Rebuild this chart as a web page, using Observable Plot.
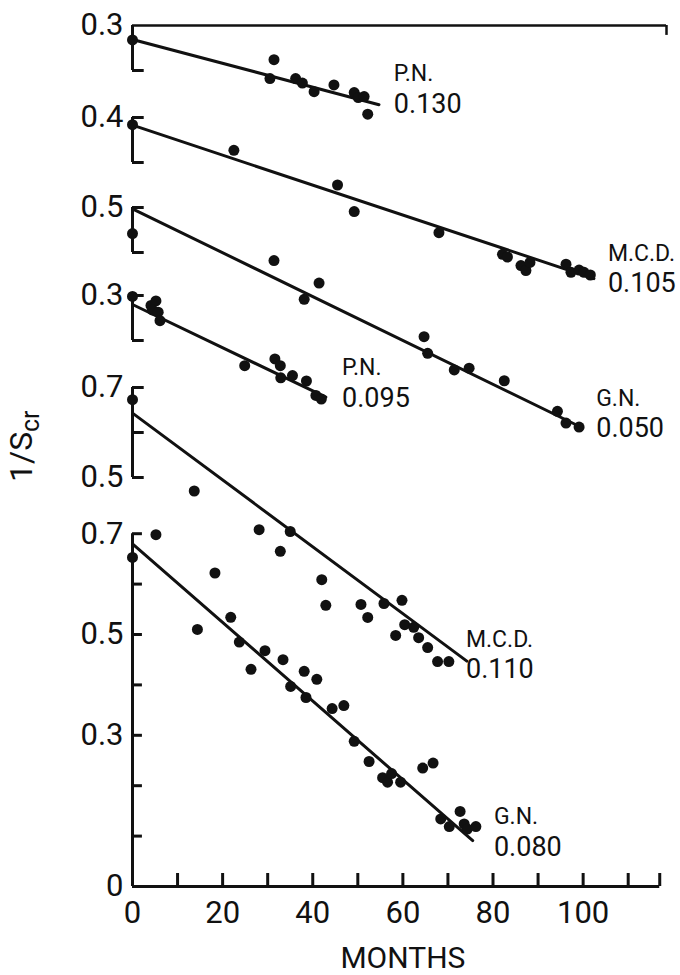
<!DOCTYPE html>
<html>
<head>
<meta charset="utf-8">
<script src="https://cdn.jsdelivr.net/npm/d3@7"></script>
<script src="https://cdn.jsdelivr.net/npm/@observablehq/plot@0.6"></script>
<style>
  body { margin: 0; background: #fff; }
  svg { display: block; }
</style>
</head>
<body>
<div id="chart"></div>
<script>
// ---------------- DATA (months, 1/Scr) ----------------
const xTicks = [10, 20, 30, 40, 50, 60, 70, 80, 90, 100, 110];
const xTickLabels = [0, 20, 40, 60, 80, 100];
const xAxisEnd = 117;
const topLineEnd = 118.5;

// P.N. 0.130
const pn130 = [[0,0.268],[31.4,0.224],[30.5,0.182],[36.2,0.182],[37.7,0.172],[40.3,0.153],[44.7,0.168],[49.2,0.151],[50.1,0.140],[51.4,0.142],[52.2,0.103]];
const pn130Fit = [[0,0.269],[54.7,0.124]];
const pn130Ticks = [0.2];
const pn130TickLabels = [[0.3,"0.3"]];

// M.C.D. 0.105
const mcd105 = [[0,0.384],[22.5,0.327],[45.5,0.250],[49.2,0.191],[68.0,0.144],[82.1,0.096],[83.2,0.090],[86.2,0.071],[87.3,0.060],[88.2,0.078],[96.2,0.074],[97.3,0.056],[99.1,0.061],[100.2,0.056],[101.6,0.050]];
const mcd105Fit = [[0,0.383],[102.4,0.042]];
const mcd105Ticks = [0.4, 0.3];
const mcd105TickLabels = [[0.4,"0.4"]];

// G.N. 0.050
const gn050 = [[0,0.442],[31.4,0.382],[41.4,0.332],[38.1,0.296],[64.7,0.213],[65.5,0.176],[71.4,0.139],[74.7,0.143],[82.5,0.115],[94.3,0.047],[96.2,0.021],[99.1,0.012]];
const gn050Fit = [[0,0.497],[99.9,0.010]];
const gn050Ticks = [0.5, 0.4];
const gn050TickLabels = [[0.5,"0.5"]];

// P.N. 0.095
const pn095 = [[0,0.298],[4.1,0.278],[5.2,0.288],[4.4,0.268],[5.7,0.263],[6.1,0.244],[24.9,0.144],[31.6,0.159],[32.8,0.144],[32.9,0.117],[35.5,0.122],[38.6,0.110],[40.7,0.078],[41.9,0.070]];
const pn095Fit = [[0,0.280],[42.9,0.074]];
const pn095Ticks = [0.3, 0.2];
const pn095TickLabels = [[0.3,"0.3"]];

// M.C.D. 0.110
const mcd110 = [[0,0.673],[13.7,0.470],[28.1,0.384],[35.0,0.380],[32.8,0.336],[42.0,0.273],[42.9,0.216],[50.7,0.218],[52.2,0.189],[55.8,0.220],[58.4,0.149],[59.8,0.227],[60.4,0.173],[62.4,0.167],[63.5,0.144],[65.5,0.122],[67.7,0.091],[70.2,0.091]];
const mcd110Fit = [[0,0.643],[74.2,0.092]];
const mcd110Ticks = [0.7, 0.6, 0.5];
const mcd110TickLabels = [[0.7,"0.7"],[0.5,"0.5"]];

// G.N. 0.080
const gn080 = [[0,0.653],[5.2,0.698],[14.4,0.510],[18.3,0.622],[21.8,0.534],[23.7,0.485],[26.3,0.431],[29.4,0.468],[33.4,0.450],[35.1,0.397],[38.1,0.427],[40.9,0.411],[38.5,0.375],[44.3,0.353],[46.9,0.359],[49.2,0.288],[52.5,0.248],[55.5,0.216],[56.6,0.207],[57.5,0.224],[59.5,0.207],[64.4,0.235],[66.7,0.245],[68.4,0.134],[70.3,0.119],[72.7,0.149],[73.6,0.124],[74.3,0.114],[76.2,0.119]];
const gn080Fit = [[0,0.680],[75.5,0.091]];
const gn080Ticks = [0.1, 0.2, 0.3, 0.4, 0.5, 0.6, 0.7];
const gn080TickLabels = [[0,"0"],[0.3,"0.3"],[0.5,"0.5"],[0.7,"0.7"]];

const seriesNames = ["P.N.", "M.C.D.", "G.N.", "P.N.", "M.C.D.", "G.N."];
const seriesRates = ["0.130", "0.105", "0.050", "0.095", "0.110", "0.080"];

// ---------------- LAYOUT (panel offsets on the shared vertical scale) ----------------
const PX_PER_UNIT = 504;           // bottom panel: pixels per unit of 1/Scr
const kUpper = 450 / PX_PER_UNIT;   // upper panels are drawn a little compressed
const layout = [
  {base: 861/504, ref: 0.3, k: kUpper, labelAt: [58.0, 0.159], tickLen: 2.6, span: [0.2, 0.3]},
  {base: 769/504, ref: 0.4, k: kUpper, labelAt: [105.5, 0.0644], tickLen: 2.6, span: [0.3, 0.4]},
  {base: 679/504, ref: 0.5, k: kUpper, labelAt: [102.9, 0.0422], tickLen: 2.6, span: [0.4, 0.5]},
  {base: 591/504, ref: 0.3, k: kUpper, labelAt: [46.5, 0.1056], tickLen: 2.6, span: [0.2, 0.3]},
  {base: 499/504, ref: 0.7, k: kUpper, labelAt: [74.0, 0.1067], tickLen: 2.6, span: [0.5, 0.7]},
  {base: 0, ref: 0, k: 1, labelAt: [80.2, 0.108], tickLen: 2.2, span: [0, 0.7]}
];

const allPts = [pn130, mcd105, gn050, pn095, mcd110, gn080];
const allFits = [pn130Fit, mcd105Fit, gn050Fit, pn095Fit, mcd110Fit, gn080Fit];
const allTicks = [pn130Ticks, mcd105Ticks, gn050Ticks, pn095Ticks, mcd110Ticks, gn080Ticks];
const allTickLabels = [pn130TickLabels, mcd105TickLabels, gn050TickLabels, pn095TickLabels, mcd110TickLabels, gn080TickLabels];

const Y = (i, v) => layout[i].base + (v - layout[i].ref) * layout[i].k;

const points = allPts.flatMap((arr, i) => arr.map(([m, v]) => ({series: i, month: m, y: Y(i, v)})));
const fits = allFits.flatMap((arr, i) => arr.map(([m, v]) => ({series: i, month: m, y: Y(i, v)})));
const tickRows = allTicks.flatMap((arr, i) => arr.map(v => ({y: Y(i, v), len: layout[i].tickLen})));
const labelRows = allTickLabels.flatMap((arr, i) => arr.map(([v, t]) => ({y: Y(i, v), text: t})));
const spans = layout.map((l, i) => ({y1: Y(i, l.span[0]), y2: Y(i, l.span[1])}));
const nameRows = seriesNames.map((t, i) => ({text: t, month: layout[i].labelAt[0], y: Y(i, layout[i].labelAt[1])}));
const rateRows = seriesRates.map((t, i) => ({text: t, month: layout[i].labelAt[0], y: Y(i, layout[i].labelAt[1])}));
const topLine = [{y: Y(0, 0.3)}];
const topEnd = [{y1: Y(0, 0.3), y2: Y(0, 0.278)}];

const ink = "#111";
const font = "Roboto, 'Open Sans', sans-serif";

const chart = Plot.plot({
  width: 680,
  height: 975,
  marginLeft: 132,
  marginRight: 14,
  marginTop: 25,
  marginBottom: 89,
  x: {domain: [0, topLineEnd], axis: null},
  y: {domain: [0, 861 / PX_PER_UNIT], axis: null},
  style: {fontFamily: font, background: "#fff", color: ink},
  marks: [
    // bottom axis
    Plot.ruleY([0], {x1: 0, x2: xAxisEnd, stroke: ink, strokeWidth: 3}),
    Plot.ruleX(xTicks.concat([xAxisEnd]), {x: d => d, y1: 0, y2: 13 / PX_PER_UNIT, stroke: ink, strokeWidth: 3}),
    Plot.text(xTickLabels, {x: d => d, y: 0, dy: 27, text: d => String(d), fontSize: 31, fill: ink, lineAnchor: "middle"}),
    Plot.text(["MONTHS"], {x: 60, y: 0, dy: 72, text: d => d, fontSize: 30, fill: ink, lineAnchor: "middle"}),
    // vertical brackets
    Plot.ruleX(spans, {x: 0, y1: "y1", y2: "y2", stroke: ink, strokeWidth: 3}),
    Plot.ruleY(tickRows, {y: "y", x1: 0, x2: "len", stroke: ink, strokeWidth: 3}),
    Plot.ruleY(topLine, {y: "y", x1: 0, x2: topLineEnd, stroke: ink, strokeWidth: 2.5}),
    Plot.ruleX(topEnd, {x: topLineEnd, y1: "y1", y2: "y2", stroke: ink, strokeWidth: 2.5}),
    Plot.text(labelRows, {x: 0, y: "y", text: "text", dx: -9, textAnchor: "end", lineAnchor: "middle", fontSize: 31, fill: ink}),
    // y title 1/Scr
    Plot.text(["1/S"], {frameAnchor: "left", text: d => d, rotate: -90, dx: -111, dy: 26, fontSize: 32, fill: ink, lineAnchor: "middle"}),
    Plot.text(["cr"], {frameAnchor: "left", text: d => d, rotate: -90, dx: -102, dy: -24, fontSize: 25, fill: ink, lineAnchor: "middle"}),
    // fitted lines and observations
    Plot.line(fits, {x: "month", y: "y", z: "series", stroke: ink, strokeWidth: 3}),
    Plot.dot(points, {x: "month", y: "y", r: 5.5, fill: ink}),
    // series labels (name above, rate below)
    Plot.text(nameRows, {x: "month", y: "y", text: "text", dy: -15, textAnchor: "start", lineAnchor: "middle", fontSize: 23, fill: ink}),
    Plot.text(rateRows, {x: "month", y: "y", text: "text", dy: 15, textAnchor: "start", lineAnchor: "middle", fontSize: 27, fill: ink})
  ]
});
document.getElementById("chart").appendChild(chart);
</script>
</body>
</html>
